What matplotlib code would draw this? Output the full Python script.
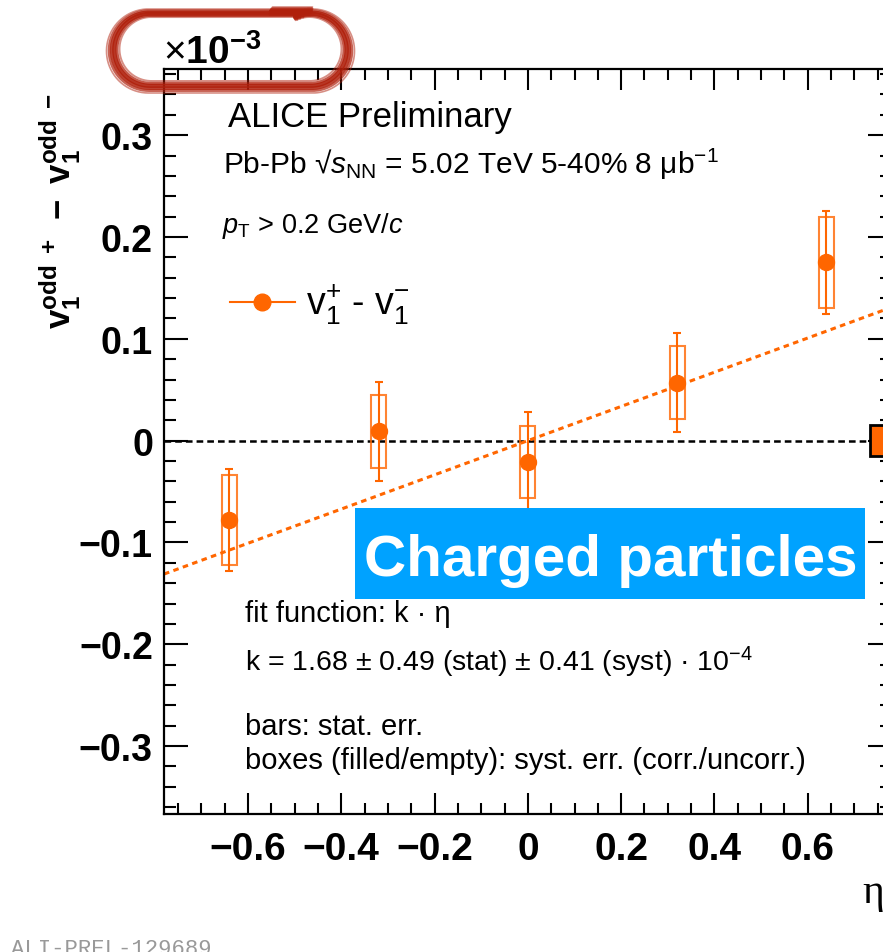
import numpy as np
import matplotlib
matplotlib.use("Agg")
import matplotlib.pyplot as plt
from matplotlib.lines import Line2D
from matplotlib.patches import Rectangle
from matplotlib.ticker import MultipleLocator

# v1 difference (in units of 1e-3) vs eta, 5-40% Pb-Pb
eta = [-0.64, -0.32, 0.0, 0.32, 0.64]
dv1 = [-0.078, 0.009, -0.021, 0.057, 0.175]
stat_err = [0.050, 0.049, 0.049, 0.049, 0.051]
syst_err = [0.044, 0.036, 0.035, 0.036, 0.045]
corr_syst = 0.0155          # correlated syst, filled box at the edge

# linear fit k * eta, k in units of 1e-4
k_fit, k_stat, k_syst = 1.68, 0.49, 0.41

plt.rcParams['font.family'] = ['Liberation Sans', 'DejaVu Sans']
plt.rcParams['mathtext.fontset'] = 'custom'
plt.rcParams['mathtext.rm'] = 'Liberation Sans'
plt.rcParams['mathtext.it'] = 'Liberation Sans:italic'
plt.rcParams['mathtext.bf'] = 'Liberation Sans:bold'
plt.rcParams['mathtext.sf'] = 'Liberation Sans'
plt.rcParams['lines.scale_dashes'] = False

ORANGE = '#ff6600'
W, H = 883, 953
fig = plt.figure(figsize=(W / 100, H / 100), dpi=100)

xlo, xhi = -0.78, 0.78
ylo, yhi = -0.3667, 0.365
px_per_x = 466.5
ax = fig.add_axes([164 / W, (H - 815) / H, (xhi - xlo) * px_per_x / W, 745 / H])
ax.set_xlim(xlo, xhi)
ax.set_ylim(ylo, yhi)

# zero line and fit
ax.axhline(0, color='black', lw=1.8, dashes=(4.8, 2.9), zorder=1)
xfit = np.array([xlo, xhi])
ax.plot(xfit, k_fit / 10 * xfit, color=ORANGE, lw=2.2, dashes=(4, 3.2), zorder=2)

# uncorrelated syst boxes
half_w = 0.016
for x, y, s in zip(eta, dv1, syst_err):
    ax.add_patch(Rectangle((x - half_w, y - s), 2 * half_w, 2 * s, fill=False,
                           edgecolor=ORANGE, lw=1.5, alpha=0.8, zorder=3))

ax.errorbar(eta, dv1, yerr=stat_err, fmt='o', color=ORANGE, ms=11.5, lw=1.5,
            capsize=3.2, capthick=1.5, zorder=4)

# correlated syst box
ax.add_patch(Rectangle((0.733, -corr_syst), 0.08, 2 * corr_syst, facecolor=ORANGE,
                       edgecolor='black', lw=2.0, clip_on=False, zorder=5))

# ROOT-like ticks on all sides
ax.xaxis.set_minor_locator(MultipleLocator(0.05))
ax.yaxis.set_minor_locator(MultipleLocator(0.02))
ax.tick_params(which='both', direction='in', top=True, right=True, width=1.5, color='black')
ax.tick_params(axis='y', which='major', length=17, pad=8)
ax.tick_params(axis='y', which='minor', length=8.5)
ax.tick_params(axis='x', which='major', length=15, pad=12)
ax.tick_params(axis='x', which='minor', length=8)
for sp in ax.spines.values():
    sp.set_linewidth(1.6)

xt = [-0.6, -0.4, -0.2, 0.0, 0.2, 0.4, 0.6]
yt = [-0.3, -0.2, -0.1, 0.0, 0.1, 0.2, 0.3]
fmt = lambda v: '0' if abs(v) < 1e-9 else f'{v:.1f}'.replace('-', '\u2212')
ax.set_xticks(xt, [fmt(v) for v in xt], fontsize=28, fontweight='bold')
ax.set_yticks(yt, [fmt(v) for v in yt], fontsize=27, fontweight='bold')

# axis titles
fig.text(60 / W, 1 - 93 / H, r'$\mathbf{v_1^{odd\ +}\ -\ v_1^{odd\ -}}$',
         rotation=90, ha='center', va='top', fontsize=25)
fig.text(873 / W, 1 - 903 / H, '\u03b7', family='Liberation Serif', fontsize=30,
         ha='center', va='baseline')
fig.text(163 / W, 1 - 64 / H, r'$\times\mathbf{10^{-3}}$', fontsize=28,
         ha='left', va='baseline')

# plot annotations
def label(xp, yp, s, size, **kw):
    fig.text(xp / W, 1 - yp / H, s, fontsize=size, ha='left', va='baseline', **kw)

label(228, 127, 'ALICE Preliminary', 25)
label(223, 174, 'Pb-Pb \u221a$s_{\\mathrm{NN}}$ = 5.02 TeV 5-40% 8 \u03bcb$^{-1}$', 21.5)
label(222, 233, r'$p_{\mathrm{T}}$ > 0.2 GeV/$c$', 19.5)
label(245, 622, 'fit function: k \u00b7 \u03b7', 21)
label(245, 671, f'k = {k_fit:.2f} \u00b1 {k_stat:.2f} (stat) \u00b1 {k_syst:.2f} (syst) \u00b7 10$^{{-4}}$', 20.5)
label(245, 735, 'bars: stat. err.', 21)
label(245, 769, 'boxes (filled/empty): syst. err. (corr./uncorr.)', 21)

# legend entry
fig.add_artist(Line2D([230 / W, 295 / W], [1 - 303 / H] * 2, color=ORANGE, lw=1.5))
fig.add_artist(Line2D([262 / W], [1 - 303 / H], marker='o', color=ORANGE, ms=12))
label(306, 315, r'$\mathrm{v}_{1}^{+}$ - $\mathrm{v}_{1}^{-}$', 27)

# species banner
fig.add_artist(Rectangle((355 / W, 1 - 600 / H), 510 / W, 91 / H, facecolor='#00a2ff',
                         edgecolor='none', transform=fig.transFigure, zorder=6))
fig.text(611 / W, 1 - 576 / H, 'Charged particles', color='white', fontsize=42,
         fontweight='bold', ha='center', va='baseline', zorder=7)


# hand-drawn marker loop (stadium shape) around the exponent
def stadium(xl, xr, yc, r, n=120):
    top = np.linspace(xr, xl, n)
    ang_l = np.linspace(np.pi / 2, 3 * np.pi / 2, n)
    bot = np.linspace(xl, xr, n)
    ang_r = np.linspace(-np.pi / 2, np.pi / 2 + 0.45, n)
    xs = np.concatenate([top, xl + r * np.cos(ang_l), bot, xr + r * np.cos(ang_r),
                         np.linspace(xr, xr - 40, 20)])
    ys = np.concatenate([np.full(n, yc - r), yc - r * np.sin(ang_l), np.full(n, yc + r),
                         yc - r * np.sin(ang_r), np.full(20, yc - r - 2)])
    return xs, ys


strokes = [(-5, 1.4, 0.5), (-3, 2.2, 0.75), (-1, 3.0, 0.9), (1, 2.6, 0.85),
           (3, 2.0, 0.7), (5, 1.2, 0.5)]
for d, lw, al in strokes:
    xs, ys = stadium(150 - d * 0.3, 311 + d * 0.3, 51 + d * 0.2, 37 + d)
    fig.add_artist(Line2D(xs / W, 1 - ys / H, color='#b0200c', lw=lw, alpha=al,
                          solid_capstyle='round'))

fig.text(11 / W, 1 - 955 / H, 'ALI-PREL-129689', family='Liberation Mono',
         fontsize=16, color='#999999', ha='left', va='baseline')

fig.savefig('out.png', dpi=100)
